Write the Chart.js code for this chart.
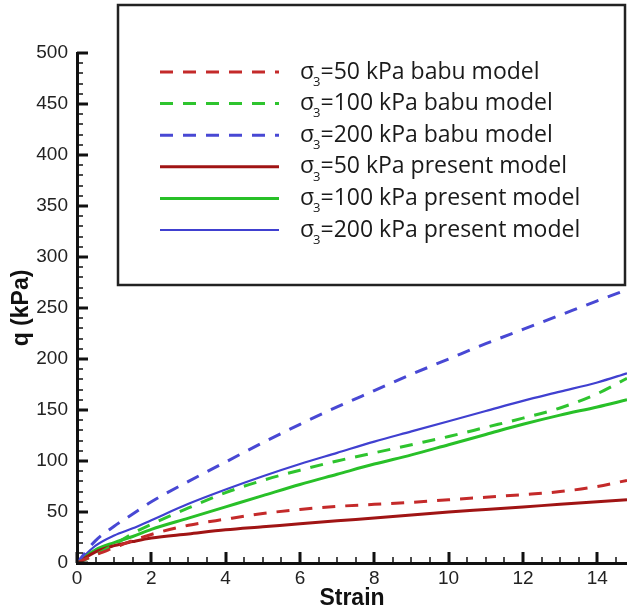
<!DOCTYPE html>
<html>
<head>
<meta charset="utf-8">
<script src="https://cdn.jsdelivr.net/npm/chart.js@4"></script>
<style>
  body { margin: 0; background: #fff; overflow: hidden; }
  #wrap { width: 627px; height: 608px; }
</style>
</head>
<body>
<div id="wrap"><canvas id="qChart" width="627" height="608"></canvas></div>
<script>
// strain values (x) shared by all curves
const strain = [0, 0.5, 1, 1.5, 2, 3, 4, 5, 6, 7, 8, 9, 10, 11, 12, 13, 14, 14.8];

// q (kPa)
const babu50 = [0, 8, 15, 22, 28, 37, 43, 48.5, 52.5, 55.5, 57.5, 59.5, 62, 64.5, 67, 70, 75, 81];
const babu100 = [0, 8, 18, 29, 38, 54, 69, 81, 91, 100, 108, 116, 124, 133, 142, 152, 166, 181];
const babu200 = [0, 22, 36, 48, 60, 80, 99, 118, 136, 153, 169, 185, 200, 215, 229, 243, 257, 268];
const present50 = [0, 11, 17, 21, 24.5, 28.5, 32.5, 35.5, 38.5, 41.5, 44, 47, 50, 52.5, 55, 57.5, 60, 62];
const present100 = [0, 13, 20, 26, 33, 44, 55, 66, 77, 87, 97, 106, 116, 126, 136, 145, 153, 160];
const present200 = [0, 17, 27, 34, 42, 58, 72, 85, 97, 108, 119, 129, 139, 149, 159, 168, 177, 186];

const seriesLabels = [
    'σ₃=50 kPa babu model',
    'σ₃=100 kPa babu model',
    'σ₃=200 kPa babu model',
    'σ₃=50 kPa present model',
    'σ₃=100 kPa present model',
    'σ₃=200 kPa present model'
];

const xTicks = [0, 2, 4, 6, 8, 10, 12, 14];

const toPoints = (ys) => strain.map((x, i) => ({ x: x, y: ys[i] }));

const makeSet = (label, ys, color, width, dash) => ({
    label: label,
    data: toPoints(ys),
    borderColor: color,
    backgroundColor: color,
    borderWidth: width,
    borderDash: dash,
    pointRadius: 0,
    fill: false,
    cubicInterpolationMode: 'monotone'
});

// inward tick marks like the original plot
const tickMarks = {
    id: 'tickMarks',
    afterDraw(chart) {
        const ctx = chart.ctx;
        const xs = chart.scales.x;
        const ys = chart.scales.y;
        const area = chart.chartArea;
        ctx.save();
        ctx.strokeStyle = '#111';
        for (let v = 0; v <= 14.5; v += 0.5) {
            const major = v % 2 === 0;
            const px = Math.round(xs.getPixelForValue(v));
            ctx.lineWidth = major ? 3 : 1.5;
            ctx.beginPath();
            ctx.moveTo(px, area.bottom);
            ctx.lineTo(px, area.bottom - (major ? 11 : 6));
            ctx.stroke();
        }
        for (let v = 0; v <= 500; v += 10) {
            const major = v % 50 === 0;
            const py = Math.round(ys.getPixelForValue(v));
            ctx.lineWidth = major ? 3 : 1.5;
            ctx.beginPath();
            ctx.moveTo(area.left, py);
            ctx.lineTo(area.left + (major ? 11 : 6), py);
            ctx.stroke();
        }
        ctx.restore();
    }
};

// boxed legend in the upper part of the plot
const boxLegend = {
    id: 'boxLegend',
    afterDraw(chart) {
        const ctx = chart.ctx;
        const mainFont = '23px "Open Sans", sans-serif';
        ctx.save();
        ctx.fillStyle = '#fff';
        ctx.fillRect(118, 5, 508, 280);
        ctx.strokeStyle = '#222';
        ctx.lineWidth = 2.5;
        ctx.strokeRect(118, 5, 507, 280);

        chart.data.datasets.forEach((ds, i) => {
            const y = 72 + i * 31.6;
            ctx.strokeStyle = ds.borderColor;
            ctx.lineWidth = ds.borderWidth;
            ctx.setLineDash(ds.borderDash);
            ctx.beginPath();
            ctx.moveTo(160, y);
            ctx.lineTo(279, y);
            ctx.stroke();
            ctx.setLineDash([]);

            ctx.fillStyle = '#1a1a1a';
            ctx.textBaseline = 'middle';
            ctx.font = mainFont;
            let x = 300;
            let rest = ds.label;
            if (rest.startsWith('σ₃')) {
                ctx.fillText('σ', x, y);
                x += ctx.measureText('σ').width;
                ctx.font = '13px "Open Sans", sans-serif';
                ctx.fillText('3', x - 1, y + 10);
                x += ctx.measureText('3').width - 1;
                ctx.font = mainFont;
                rest = rest.slice(2);
            }
            ctx.fillText(rest, x, y);
        });
        ctx.restore();
    }
};

const ctx = document.getElementById('qChart');

new Chart(ctx, {
    type: 'line',
    data: {
        datasets: [
            makeSet(seriesLabels[0], babu50, '#c42a2a', 3, [13, 10]),
            makeSet(seriesLabels[1], babu100, '#2ec42e', 3, [13, 10]),
            makeSet(seriesLabels[2], babu200, '#4848d4', 3, [13, 10]),
            makeSet(seriesLabels[3], present50, '#a01414', 3, []),
            makeSet(seriesLabels[4], present100, '#28c028', 3, []),
            makeSet(seriesLabels[5], present200, '#4040d0', 2.2, [])
        ]
    },
    options: {
        responsive: false,
        animation: false,
        layout: { padding: { top: 53, right: 0, left: 0, bottom: 0 } },
        plugins: {
            legend: { display: false },
            tooltip: { enabled: false }
        },
        scales: {
            x: {
                type: 'linear',
                min: 0,
                max: 14.8,
                afterBuildTicks: (scale) => {
                    scale.ticks = xTicks.map(v => ({ value: v }));
                },
                afterFit: (scale) => { scale.height = 45; },
                grid: { display: false, drawTicks: false },
                border: { display: true, color: '#111', width: 3 },
                ticks: {
                    padding: 4,
                    color: '#222',
                    maxRotation: 0,
                    font: { family: '"Liberation Sans", Arial, sans-serif', size: 19 }
                },
                title: {
                    display: true,
                    text: 'Strain',
                    color: '#111',
                    padding: { top: 0, bottom: 0 },
                    font: { family: '"Liberation Sans", Arial, sans-serif', size: 23, weight: 'bold', lineHeight: 0.8 }
                }
            },
            y: {
                min: 0,
                max: 500,
                afterFit: (scale) => { scale.width = 77; },
                grid: { display: false, drawTicks: false },
                border: { display: true, color: '#111', width: 3 },
                ticks: {
                    stepSize: 50,
                    padding: 9,
                    color: '#222',
                    font: { family: '"Liberation Sans", Arial, sans-serif', size: 19 }
                },
                title: {
                    display: true,
                    text: 'q (kPa)',
                    color: '#111',
                    padding: { top: 8, bottom: 0 },
                    font: { family: '"Liberation Sans", Arial, sans-serif', size: 23, weight: 'bold', lineHeight: 1.2 }
                }
            }
        }
    },
    plugins: [tickMarks, boxLegend]
});
</script>
</body>
</html>
